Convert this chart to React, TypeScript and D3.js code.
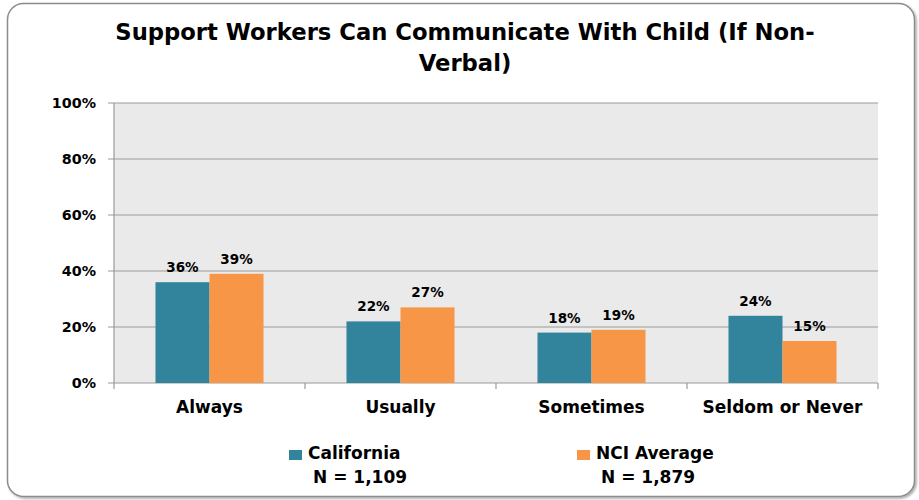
import React from "react";
import * as d3 from "d3";

const categories = ["Always", "Usually", "Sometimes", "Seldom or Never"];
const seriesNames = ["California", "NCI Average"];
const californiaValues = [36, 22, 18, 24];
const nciValues = [39, 27, 19, 15];
const sampleSizes = ["N = 1,109", "N = 1,879"];
const yTicks = [0, 20, 40, 60, 80, 100];
const titleLines = ["Support Workers Can Communicate With Child (If Non-", "Verbal)"];

const colors = ["#31849B", "#F79646"];
const W = 919;
const H = 500;
const plot = { left: 114, right: 878, top: 103, bottom: 383 };
const font = "'DejaVu Sans', 'Open Sans', sans-serif";

export default function App() {
  const x0 = d3.scaleBand<string>().domain(categories).range([plot.left, plot.right]).paddingInner(0).paddingOuter(0);
  const x1 = d3.scaleBand<string>().domain(seriesNames).range([0, x0.bandwidth()]).paddingInner(0).paddingOuter(0.768);
  const y = d3.scaleLinear().domain([0, 100]).range([plot.bottom, plot.top]);
  const series = [californiaValues, nciValues];

  return (
    <svg width={W} height={H} style={{ position: "absolute", left: 0, top: 0, display: "block" }}>
      <defs>
        <filter id="sh" x="-5%" y="-5%" width="110%" height="110%">
          <feDropShadow dx="1.5" dy="1.5" stdDeviation="1.2" floodColor="#000" floodOpacity="0.35" />
        </filter>
      </defs>
      <rect x={0} y={0} width={W} height={H} fill="#fff" />
      <rect x={7.5} y={3.5} width={907} height={493} rx={16} ry={16} fill="#fff" stroke="#8c8c8c" strokeWidth={1.5} filter="url(#sh)" />
      {titleLines.map((t, i) => (
        <text key={i} x={465} y={40 + i * 31} textAnchor="middle" fontFamily={font} fontWeight="bold" fontSize={22.7} fill="#000">
          {t}
        </text>
      ))}
      <rect x={plot.left} y={plot.top} width={plot.right - plot.left} height={plot.bottom - plot.top} fill="#EAEAEA" />
      {yTicks.map((t) => (
        <g key={t}>
          <line x1={plot.left - 6} x2={plot.right} y1={y(t)} y2={y(t)} stroke="#9a9a9a" strokeWidth={1.2} />
          <text x={96} y={y(t) + 5} textAnchor="end" fontFamily={font} fontWeight="bold" fontSize={14.3} fill="#000">
            {t}%
          </text>
        </g>
      ))}
      <line x1={plot.left} x2={plot.left} y1={plot.top} y2={plot.bottom + 6} stroke="#9a9a9a" strokeWidth={1.2} />
      {categories.map((c) => (
        <line key={c} x1={(x0(c) as number) + x0.bandwidth()} x2={(x0(c) as number) + x0.bandwidth()} y1={plot.bottom} y2={plot.bottom + 6} stroke="#9a9a9a" strokeWidth={1.2} />
      ))}
      {categories.map((c, ci) =>
        seriesNames.map((s, si) => {
          const v = series[si][ci];
          const bx = (x0(c) as number) + (x1(s) as number);
          return (
            <g key={c + s}>
              <rect x={bx} y={y(v)} width={x1.bandwidth()} height={plot.bottom - y(v)} fill={colors[si]} />
              <text x={bx + x1.bandwidth() / 2} y={y(v) - 10} textAnchor="middle" fontFamily={font} fontWeight="bold" fontSize={13.5} fill="#000">
                {v}%
              </text>
            </g>
          );
        })
      )}
      {categories.map((c) => (
        <text key={c} x={(x0(c) as number) + x0.bandwidth() / 2} y={413} textAnchor="middle" fontFamily={font} fontWeight="bold" fontSize={17} fill="#000">
          {c}
        </text>
      ))}
      {seriesNames.map((s, i) => {
        const lx = i === 0 ? 289 : 577;
        return (
          <g key={s}>
            <rect x={lx} y={450} width={13} height={10} fill={colors[i]} />
            <text x={lx + 19} y={459} fontFamily={font} fontWeight="bold" fontSize={17} fill="#000">
              {s}
            </text>
            <text x={lx + 24} y={483} fontFamily={font} fontWeight="bold" fontSize={17} fill="#000">
              {sampleSizes[i]}
            </text>
          </g>
        );
      })}
    </svg>
  );
}
